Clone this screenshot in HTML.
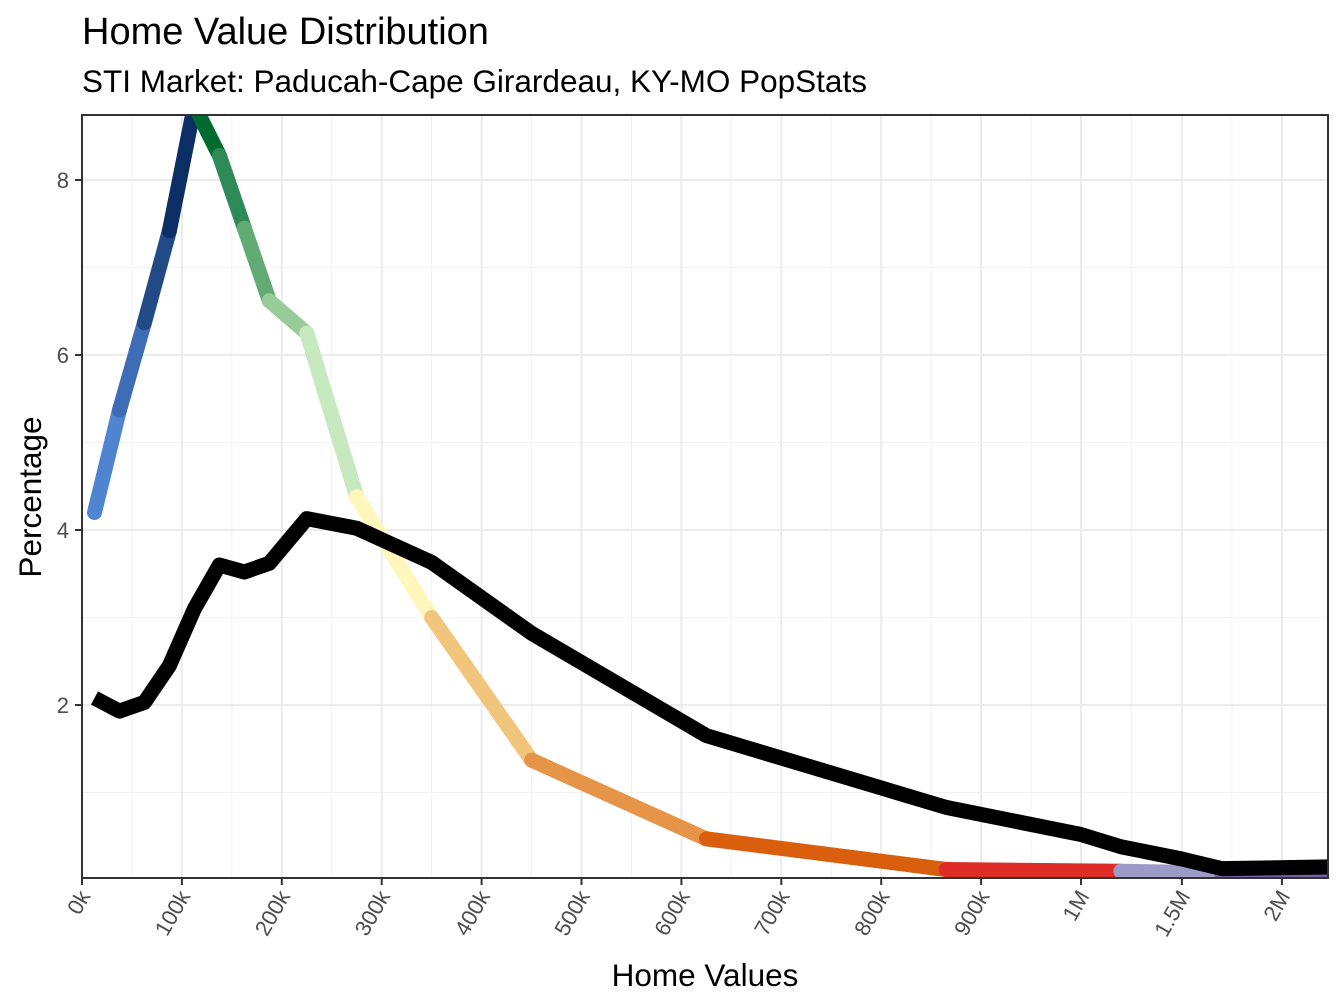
<!DOCTYPE html>
<html><head><meta charset="utf-8"><style>
body{margin:0;background:#fff;}
svg{display:block;font-family:"Liberation Sans",Arial,sans-serif;}
</style></head><body>
<svg id="chart" width="1344" height="1008" viewBox="0 0 1344 1008">
<text x="82" y="44" font-size="38" fill="#000">Home Value Distribution</text>
<text x="82" y="92" font-size="31.5" fill="#000">STI Market: Paducah-Cape Girardeau, KY-MO PopStats</text>
<defs><clipPath id="clip"><rect x="82" y="115" width="1246" height="763"/></clipPath></defs>
<g id="grid"></g>
<g id="series" clip-path="url(#clip)"></g>
<rect x="82" y="115" width="1246" height="763" fill="none" stroke="#333" stroke-width="2"/>
<g id="axes"></g>
<text x="705" y="986" font-size="31.5" text-anchor="middle" fill="#000">Home Values</text>
<text transform="translate(41,497) rotate(-90)" font-size="31.5" text-anchor="middle" fill="#000">Percentage</text>
</svg>
<script>
const xTickVals=[0,100,200,300,400,500,600,700,800,900,1000,1500,2000];
const xTickLabels=["0k","100k","200k","300k","400k","500k","600k","700k","800k","900k","1M","1.5M","2M"];
const yTickVals=[2,4,6,8];
const distX=[12.5,37.5,62.5,87.5,112.5,137.5,162.5,187.5,225,275,350,450,625,865,1195,1700,2250];
const distY=[4.2,5.37,6.37,7.42,8.85,8.28,7.45,6.62,6.25,4.38,3.0,1.37,0.47,0.12,0.1,0.08,0.06];
const segColors=["#4E84D0","#3F6DB5","#224A87","#0B2F64","#006B2F","#2E8B57","#62AB74","#97CB98","#C7E9C0","#FFF7BC","#F2C57C","#E69447","#D95F0E","#DE2D26","#9E9AC8","#7A5DA8"];
const benchX=[12.5,37.5,62.5,87.5,112.5,137.5,162.5,187.5,225,275,350,450,625,865,1000,1195,1500,1700,2250];
const benchY=[2.08,1.93,2.03,2.45,3.1,3.6,3.52,3.62,4.13,4.02,3.63,2.82,1.65,0.83,0.52,0.38,0.24,0.13,0.15];
const NS="http://www.w3.org/2000/svg";
function xs(k){return k<=1000?82+k*0.999:1081.9+(k-1000)*0.2;}
function ys(v){return 880-v*87.5;}
function mk(tag,attrs,parent){const e=document.createElementNS(NS,tag);for(const a in attrs)e.setAttribute(a,attrs[a]);parent.appendChild(e);return e;}
const grid=document.getElementById('grid'),axes=document.getElementById('axes'),series=document.getElementById('series');
for(let i=0;i<xTickVals.length-1;i++){const m=(xs(xTickVals[i])+xs(xTickVals[i+1]))/2;
const l=mk('line',{x1:m,x2:m,y1:115,y2:878,stroke:'#f2f2f2','stroke-width':1},grid);

}
{const l=mk('line',{x1:xs(2000)+50,x2:xs(2000)+50,y1:115,y2:878,stroke:'#f2f2f2','stroke-width':1},grid);

}
[1,3,5,7].forEach(v=>{const l=mk('line',{x1:82,x2:1328,y1:ys(v),y2:ys(v),stroke:'#f2f2f2','stroke-width':1},grid);

});
xTickVals.forEach((v,i)=>{const x=xs(v);
const g=mk('line',{x1:x,x2:x,y1:115,y2:878,stroke:'#ebebeb','stroke-width':2},grid);


const t=mk('line',{x1:x,x2:x,y1:878,y2:885,stroke:'#333','stroke-width':2},axes);


const tx=mk('text',{transform:`translate(${x+9},${896}) rotate(-60)`,'text-anchor':'end','font-size':22,fill:'#4d4d4d'},axes);
tx.textContent=xTickLabels[i];

});
yTickVals.forEach(v=>{const y=ys(v);
const g=mk('line',{x1:82,x2:1328,y1:y,y2:y,stroke:'#ebebeb','stroke-width':2},grid);


const t=mk('line',{x1:75,x2:82,y1:y,y2:y,stroke:'#333','stroke-width':2},axes);


const tx=mk('text',{x:69,y:y+8,'text-anchor':'end','font-size':22,fill:'#4d4d4d'},axes);
tx.textContent=v;

});
for(let i=0;i<distX.length-1;i++){
const s=mk('line',{x1:xs(distX[i]),y1:ys(distY[i]),x2:xs(distX[i+1]),y2:ys(distY[i+1]),stroke:segColors[i],'stroke-width':15,'stroke-linecap':'round'},series);

}
const pts=benchX.map((x,i)=>xs(x)+','+ys(benchY[i])).join(' ');
const b=mk('polyline',{points:pts,fill:'none',stroke:'#000','stroke-width':15,'stroke-linejoin':'round'},series);


</script>
</body></html>
